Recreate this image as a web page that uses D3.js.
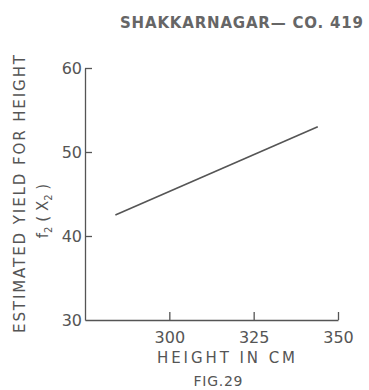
<!DOCTYPE html>
<html>
<head>
<meta charset="utf-8">
<script src="https://cdn.jsdelivr.net/npm/d3@7"></script>
<style>
  body { margin: 0; background: #fff; }
  svg text { font-family: "DejaVu Sans", sans-serif; fill: #555; }
</style>
</head>
<body>
<script>
// values
const heights = [284, 344];
const yields = [42.5, 53];
const xTicks = [300, 325, 350];
const yTicks = [30, 40, 50, 60];

const width = 369;
const height = 390;
const ink = '#555';

const x = d3.scaleLinear().domain([275, 350]).range([85, 338]);
const y = d3.scaleLinear().domain([30, 60]).range([320, 68]);

const svg = d3.select('body')
  .append('svg')
  .attr('width', width)
  .attr('height', height);

const yAxis = d3.axisLeft(y)
  .tickValues(yTicks)
  .tickSizeInner(-7)
  .tickSizeOuter(0)
  .tickPadding(3);

const xAxis = d3.axisBottom(x)
  .tickValues(xTicks)
  .tickSizeInner(-8)
  .tickSizeOuter(0)
  .tickPadding(12);

const gy = svg.append('g')
  .attr('transform', 'translate(85,0)')
  .call(yAxis);

const gx = svg.append('g')
  .attr('transform', 'translate(0,320)')
  .call(xAxis);

[gx, gy].forEach(g => {
  g.selectAll('path, line').attr('stroke', ink).attr('stroke-width', 1.3);
  g.selectAll('text')
    .style('font-size', '16px')
    .style('font-family', '"DejaVu Sans", sans-serif')
    .attr('fill', ink);
});
gy.selectAll('.tick').filter(d => d === 30).select('line').remove();

const line = d3.line()
  .x(d => x(d[0]))
  .y(d => y(d[1]));

svg.append('path')
  .datum(heights.map((h, i) => [h, yields[i]]))
  .attr('d', line)
  .attr('fill', 'none')
  .attr('stroke', ink)
  .attr('stroke-width', 1.6);

svg.append('text')
  .attr('x', 120)
  .attr('y', 28)
  .attr('textLength', 243)
  .attr('lengthAdjust', 'spacing')
  .style('font-size', '15px')
  .style('font-weight', 'bold')
  .style('fill', '#666')
  .text('SHAKKARNAGAR— CO. 419');

svg.append('text')
  .attr('x', 157)
  .attr('y', 363)
  .attr('textLength', 138)
  .attr('lengthAdjust', 'spacing')
  .style('font-size', '15px')
  .text('HEIGHT IN CM');

svg.append('text')
  .attr('x', 218)
  .attr('y', 386)
  .attr('text-anchor', 'middle')
  .attr('textLength', 49)
  .attr('lengthAdjust', 'spacing')
  .style('font-size', '14px')
  .text('FIG.29');

svg.append('text')
  .attr('transform', 'translate(25,194) rotate(-90)')
  .attr('text-anchor', 'middle')
  .attr('textLength', 278)
  .attr('lengthAdjust', 'spacing')
  .style('font-size', '15px')
  .text('ESTIMATED YIELD FOR HEIGHT');

const sub = svg.append('text')
  .attr('transform', 'translate(48,211) rotate(-90)')
  .attr('text-anchor', 'middle')
  .style('font-size', '15px');
sub.append('tspan').text('f');
sub.append('tspan').attr('dy', 4).style('font-size', '10px').text('2');
sub.append('tspan').attr('dy', -4).text(' ( X');
sub.append('tspan').attr('dy', 4).style('font-size', '10px').text('2');
sub.append('tspan').attr('dy', -4).text(' )');
</script>
</body>
</html>
